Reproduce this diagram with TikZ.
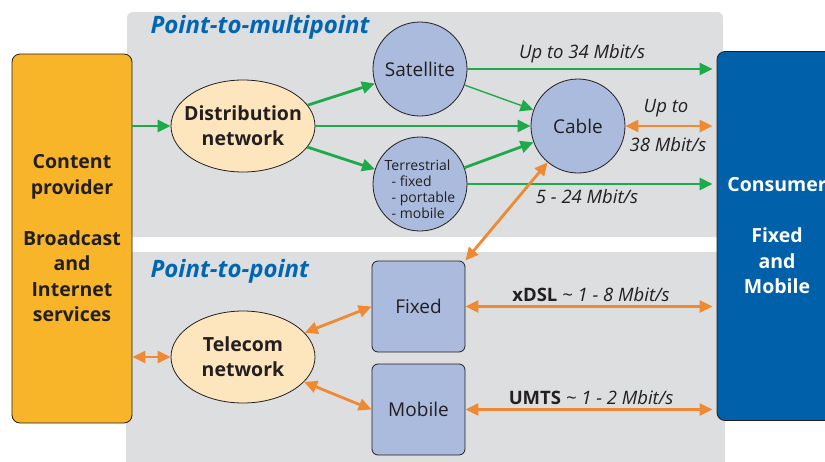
\documentclass[tikz,border=0pt]{standalone}
\usepackage{fontspec}
\setmainfont{Open Sans}
\usetikzlibrary{arrows.meta}
\usetikzlibrary{shapes.geometric}
\definecolor{panelgray}{RGB}{221,222,224}
\definecolor{provorange}{RGB}{249,181,42}
\definecolor{netpeach}{RGB}{253,229,190}
\definecolor{techblue}{RGB}{170,187,222}
\definecolor{consblue}{RGB}{0,96,169}
\definecolor{titleblue}{RGB}{0,102,179}
\definecolor{flowgreen}{RGB}{30,170,74}
\definecolor{duplexorange}{RGB}{240,138,50}
\definecolor{inkgray}{RGB}{35,31,32}
\begin{document}
\begin{tikzpicture}[x=1pt,y=-1pt,
  panel/.style={fill=panelgray,rounded corners=6pt},
  sidebox/.style={draw=inkgray,line width=0.8pt,rounded corners=8pt,minimum width=120pt,minimum height=369pt,align=center,font=\fontsize{19.5}{25.5}\selectfont\bfseries},
  netellipse/.style={ellipse,draw=inkgray,line width=0.8pt,fill=netpeach,minimum width=144pt,minimum height=92pt,inner sep=0pt},
  nettext/.style={align=center,text=inkgray,font=\fontsize{19.5}{25}\selectfont\bfseries},
  techcircle/.style={circle,draw=inkgray,line width=0.8pt,fill=techblue,minimum size=94pt,inner sep=0pt,text=inkgray,font=\fontsize{19}{22}\selectfont},
  techbox/.style={draw=inkgray,line width=0.8pt,fill=techblue,rounded corners=6pt,minimum width=93pt,minimum height=91pt,text=inkgray,font=\fontsize{19}{22}\selectfont},
  terrlist/.style={align=left,text=inkgray,font=\fontsize{14}{16}\selectfont,yshift=-5pt},
  paneltitle/.style={anchor=west,text=titleblue,font=\fontsize{24}{26}\selectfont\bfseries\itshape},
  rate/.style={text=inkgray,font=\fontsize{18.5}{22}\selectfont\itshape},
  oneway/.style={draw=flowgreen,line width=2.8pt,-{Triangle[length=13pt,width=12pt]}},
  twoway/.style={draw=duplexorange,line width=2.8pt,{Triangle[length=13pt,width=12pt]}-{Triangle[length=13pt,width=12pt]}}]
\useasboundingbox (0,0) rectangle (825,461);
\clip (0,0) rectangle (825,461);
\fill[panel] (127,12) rectangle (723,237);
\fill[panel] (126,252) rectangle (725,475);
\draw (147,27) node (pmp) [paneltitle] {Point-to-multipoint};
\draw (147,271) node (ptp) [paneltitle] {Point-to-point};
\draw (72,238.5) node (prov) [sidebox,fill=provorange,text=inkgray] {Content\\provider\\[25.5pt]Broadcast\\and\\Internet\\services};
\draw (777,236) node (cons) [sidebox,fill=consblue,text=white] {Consumer\\[25.5pt]Fixed\\and\\Mobile};
\draw (243,126) node (dist) [netellipse,label={[nettext]center:Distribution\\network}] {};
\draw (243,357) node (tel) [netellipse,label={[nettext]center:Telecom\\network}] {};
\draw (420,69) node (sat) [techcircle] {Satellite};
\draw (578,126) node (cable) [techcircle] {Cable};
\draw (420,184) node (terr) [techcircle,label={[terrlist]center:Terrestrial\\\hspace*{7pt}- fixed\\\hspace*{7pt}- portable\\\hspace*{7pt}- mobile}] {};
\draw (418.5,306.5) node (fix) [techbox] {Fixed};
\draw (418.5,409.5) node (mob) [techbox] {Mobile};
\draw[oneway] (prov.east |- dist) -- (dist);
\draw[oneway] (dist) -- (sat);
\draw[oneway] (dist) -- (cable);
\draw[oneway] (dist) -- (terr);
\draw[oneway,line width=1.4pt] (sat) -- (cable);
\draw[oneway] (terr) -- (cable);
\draw[oneway,shorten >=4pt] (sat.east) -- (sat.east -| cons.west) node (r1) [rate,pos=0.46,above=1pt] {Up to 34 Mbit/s};
\draw[oneway,shorten >=4pt] (terr.east) -- (terr.east -| cons.west) node (r2) [rate,pos=0.48,below=1pt] {5 - 24 Mbit/s};
\draw[twoway,shorten >=4pt] (cable.east) -- (cable.east -| cons.west);
\draw (666,108) node (r3) [rate] {Up to};
\draw (668,145) node (r4) [rate] {38 Mbit/s};
\draw[twoway] (fix.north east) -- (cable);
\draw[twoway] (prov.east |- tel) -- (tel);
\draw[twoway] (tel) -- (fix.west);
\draw[twoway] (tel) -- (mob.west);
\draw[twoway,shorten >=4pt] (fix.east) -- (fix.east -| cons.west) node (r5) [rate,midway,above=0pt] {\textbf{\upshape xDSL} \textasciitilde\ 1 - 8 Mbit/s};
\draw[twoway,shorten >=4pt] (mob.east) -- (mob.east -| cons.west) node (r6) [rate,midway,above=0pt] {\textbf{\upshape UMTS} \textasciitilde\ 1 - 2 Mbit/s};
\end{tikzpicture}
\end{document}
